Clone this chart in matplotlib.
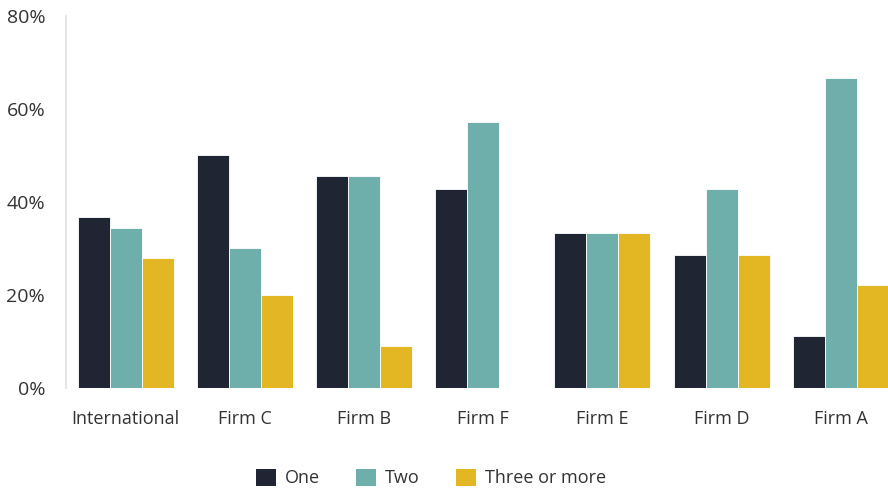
import matplotlib
matplotlib.use("Agg")
import matplotlib.pyplot as plt
import numpy as np
from matplotlib.patches import Patch

categories = ["International", "Firm C", "Firm B", "Firm F", "Firm E", "Firm D", "Firm A"]
series_names = ["One", "Two", "Three or more"]
one = [36.7, 50.0, 45.5, 42.9, 33.3, 28.6, 11.1]
two = [34.5, 30.0, 45.5, 57.1, 33.3, 42.9, 66.7]
three = [28.0, 20.0, 9.0, 0.0, 33.3, 28.6, 22.2]
colors = ["#1f2533", "#6eaeab", "#e3b624"]
yticks = [0, 20, 40, 60, 80]
ytick_labels = ["0%", "20%", "40%", "60%", "80%"]

plt.rcParams['font.family'] = ['Open Sans', 'DejaVu Sans']
plt.rcParams['font.weight'] = 500
fig = plt.figure(figsize=(8.88, 4.90), dpi=100)
ax = fig.add_axes([66/888, 102/490, 834.4/888, 372/490])

x = np.arange(len(categories))
w = 0.268
for i, (vals, c) in enumerate(zip([one, two, three], colors)):
    ax.bar(x + (i - 1) * w, vals, width=w, color=c, edgecolor="white", linewidth=0.6, label=series_names[i])

ax.set_xlim(-0.5, len(categories) - 0.5)
ax.set_ylim(0, 80)
ax.set_yticks(yticks)
ax.set_yticklabels(ytick_labels)
ax.set_xticks(x)
ax.set_xticklabels(categories)
for s in ["top", "right", "bottom"]:
    ax.spines[s].set_visible(False)
ax.spines["left"].set_color("#e0e0e0")
ax.spines["left"].set_linewidth(1.2)
ax.tick_params(axis="y", length=0, pad=15, labelsize=14, labelcolor="#333333")
ax.tick_params(axis="x", length=0, pad=16, labelsize=13, labelcolor="#333333")

handles = [Patch(facecolor=c, edgecolor="none") for c in colors]
fig.legend(handles, series_names, loc="center", bbox_to_anchor=(431/888, 1 - 478/490),
           ncol=3, frameon=False, fontsize=13, handlelength=1.1, handleheight=1.1,
           handletextpad=0.5, columnspacing=2.0, labelcolor="#333333")

fig.savefig("out.png", dpi=100)
